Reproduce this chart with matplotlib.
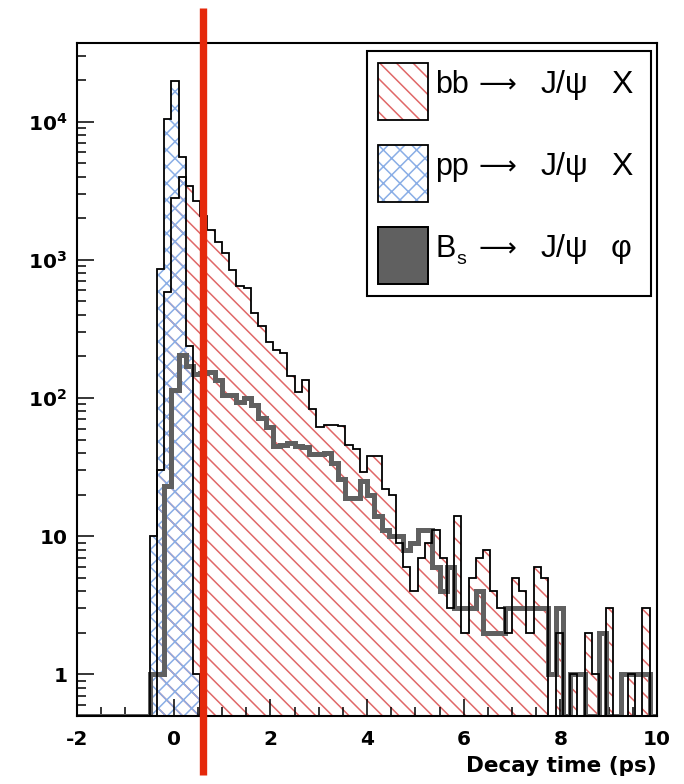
import numpy as np
import matplotlib
matplotlib.use("Agg")
import matplotlib.pyplot as plt
from matplotlib.patches import Rectangle
from matplotlib.ticker import LogLocator, NullFormatter, FuncFormatter, MultipleLocator

plt.rcParams["font.family"] = ["DejaVu Sans"]
plt.rcParams["mathtext.fontset"] = "custom"
plt.rcParams["mathtext.rm"] = "DejaVu Sans"
plt.rcParams["mathtext.bf"] = "DejaVu Sans:bold"
plt.rcParams["hatch.linewidth"] = 1.1

# ---- histogram data: 80 bins of 0.15 ps from -2 to 10 ----------------------
T_LO, T_HI, N_BINS = -2.0, 10.0, 80
EDGES = np.linspace(T_LO, T_HI, N_BINS + 1)

# bb -> J/psi X (detached)
BB = [0] * 11 + [
    30, 580, 2800, 3950, 3400, 2650, 2060, 1630, 1343,            # k11-19
    1120, 838, 650, 620, 411, 334, 256, 223, 213, 143,            # k20-29
    111, 135, 83, 62, 64, 64, 63, 46, 43, 29,                     # k30-39
    38, 38, 22, 20, 9, 6, 4, 7, 9, 11,                            # k40-49
    7, 3, 14, 2, 5, 7, 8, 4, 3, 2,                                # k50-59
    5, 4, 2, 6, 5, 0, 2, 0, 1, 0,                                 # k60-69
    2, 1, 0, 3, 0, 0, 1, 0, 3, 0,                                 # k70-79
]

# pp -> J/psi X (prompt)
PP = [0] * 10 + [10, 857, 10500, 19600, 5550, 238, 1] + [0] * 63

# Bs -> J/psi phi
BS = [0] * 10 + [
    1, 1, 23, 114, 205, 170, 148, 152, 155, 135,                  # k10-19
    105, 105, 94, 100, 89, 72, 62, 45, 46, 47,                    # k20-29
    45, 44, 39, 39, 40, 34, 26, 19, 19, 25,                       # k30-39
    20, 14, 11, 10, 10, 8, 9, 11, 11, 6,                          # k40-49
    4, 6, 3, 3, 3, 4, 2, 2, 2, 3,                                 # k50-59
    3, 3, 3, 3, 3, 1, 3, 0, 1, 1,                                 # k60-69
    0, 0, 2, 0, 0, 1, 1, 1, 1, 0,                                 # k70-79
]

CUT = 0.6  # ps

LEG_PREFIX = ["bb", "pp", "B"]
LEG_SUB = ["", "", "s"]
LEG_MID = ["J/\u03c8", "J/\u03c8", "J/\u03c8"]
LEG_END = ["X", "X", "\u03c6"]

YMIN, YMAX = 0.5, 37000
RED_H = "#e06868"
BLUE_H = "#8aaee6"
GREY = "#606060"
CUT_RED = "#e5290b"
W, H = 684, 784
LEG_FONT = ["Liberation Sans", "DejaVu Sans"]


def floor(v):
    return np.maximum(np.asarray(v, float), YMIN)


def fx(px):
    return px / W


def fy(py):
    return 1 - py / H


fig = plt.figure(figsize=(W / 100, H / 100), dpi=100)
ax = fig.add_axes([fx(77), fy(716), fx(657) - fx(77), fy(43) - fy(716)])

# hatched fills
ax.stairs(floor(BB), EDGES, baseline=YMIN, fill=True, facecolor="none",
          edgecolor=RED_H, hatch="\\\\", lw=0, zorder=1)
ax.stairs(floor(PP), EDGES, baseline=YMIN, fill=True, facecolor="none",
          edgecolor=BLUE_H, hatch="xx", lw=0, zorder=1)
# Bs thick grey line
ax.stairs(floor(BS), EDGES, baseline=YMIN, color=GREY, lw=3.6, zorder=2)
# black outlines
ax.stairs(floor(BB), EDGES, baseline=YMIN, color="black", lw=1.3, zorder=3)
ax.stairs(floor(PP), EDGES, baseline=YMIN, color="black", lw=1.3, zorder=3)

ax.axvline(CUT, ymin=(716 - 775) / 673, ymax=(716 - 8) / 673, color=CUT_RED,
           lw=5.3, solid_capstyle="butt", clip_on=False, zorder=6)

ax.set_xlim(T_LO, T_HI)
ax.set_yscale("log")
ax.set_ylim(YMIN, YMAX)

ax.xaxis.set_major_locator(MultipleLocator(2))
ax.xaxis.set_minor_locator(MultipleLocator(0.5))
ax.yaxis.set_major_locator(LogLocator(base=10, numticks=10))
ax.yaxis.set_minor_locator(LogLocator(base=10, subs=np.arange(2, 10), numticks=20))
ax.yaxis.set_minor_formatter(NullFormatter())


def ylab(v, pos):
    n = int(round(np.log10(v)))
    if n == 0:
        return "1"
    if n == 1:
        return "10"
    return r"$\mathbf{10^{%d}}$" % n


ax.yaxis.set_major_formatter(FuncFormatter(ylab))
ax.xaxis.set_major_formatter(FuncFormatter(lambda v, p: "%d" % v))

ax.tick_params(which="both", direction="in", top=False, right=False, width=1.1)
ax.tick_params(which="major", length=12.5, labelsize=14.5)
ax.tick_params(axis="x", which="major", pad=10)
ax.tick_params(axis="y", which="major", pad=7)
ax.tick_params(which="minor", length=6.5)
for lab in ax.get_xticklabels() + ax.get_yticklabels():
    lab.set_fontweight("bold")
for s in ax.spines.values():
    s.set_linewidth(1.5)

ax.set_xlabel("Decay time (ps)", fontsize=15.5, fontweight="bold")
ax.xaxis.set_label_coords(1.0, -0.06)
ax.xaxis.label.set_horizontalalignment("right")

# ---- legend (ROOT-style box) ----------------------------------------------
ftr = fig.transFigure
ax.add_patch(Rectangle((fx(367), fy(296)), fx(651) - fx(367), fy(51) - fy(296),
                       transform=ftr, facecolor="white", edgecolor="black",
                       lw=1.5, clip_on=False, zorder=7))
row_top = [63, 145, 227]
box_h = 57
styles = [dict(facecolor="white", edgecolor=RED_H, hatch="\\\\", lw=0),
          dict(facecolor="white", edgecolor=BLUE_H, hatch="xx", lw=0),
          dict(facecolor=GREY, edgecolor="black", lw=1.3)]
for i, top in enumerate(row_top):
    x0, y0 = fx(378), fy(top + box_h)
    w, h = fx(428) - fx(378), fy(top) - fy(top + box_h)
    ax.add_patch(Rectangle((x0, y0), w, h, transform=ftr, clip_on=False,
                           zorder=8, **styles[i]))
    ax.add_patch(Rectangle((x0, y0), w, h, transform=ftr, clip_on=False,
                           facecolor="none", edgecolor="black", lw=1.3, zorder=9))
    base = fy(top + box_h / 2 + 1.5)
    kw = dict(transform=ftr, va="baseline", ha="left", zorder=9)
    ax.text(fx(435), base, LEG_PREFIX[i], fontsize=22, family=LEG_FONT, **kw)
    if LEG_SUB[i]:
        ax.text(fx(456), fy(top + box_h / 2 + 8), LEG_SUB[i], fontsize=14,
                family=LEG_FONT, **kw)
    ax.text(fx(479), base, "\u27f6", fontsize=19, family="DejaVu Sans", **kw)
    ax.text(fx(541), base, LEG_MID[i], fontsize=23, family=LEG_FONT, **kw)
    ax.text(fx(611), base, LEG_END[i], fontsize=23, family=LEG_FONT, **kw)

fig.savefig("out.png", dpi=100)
